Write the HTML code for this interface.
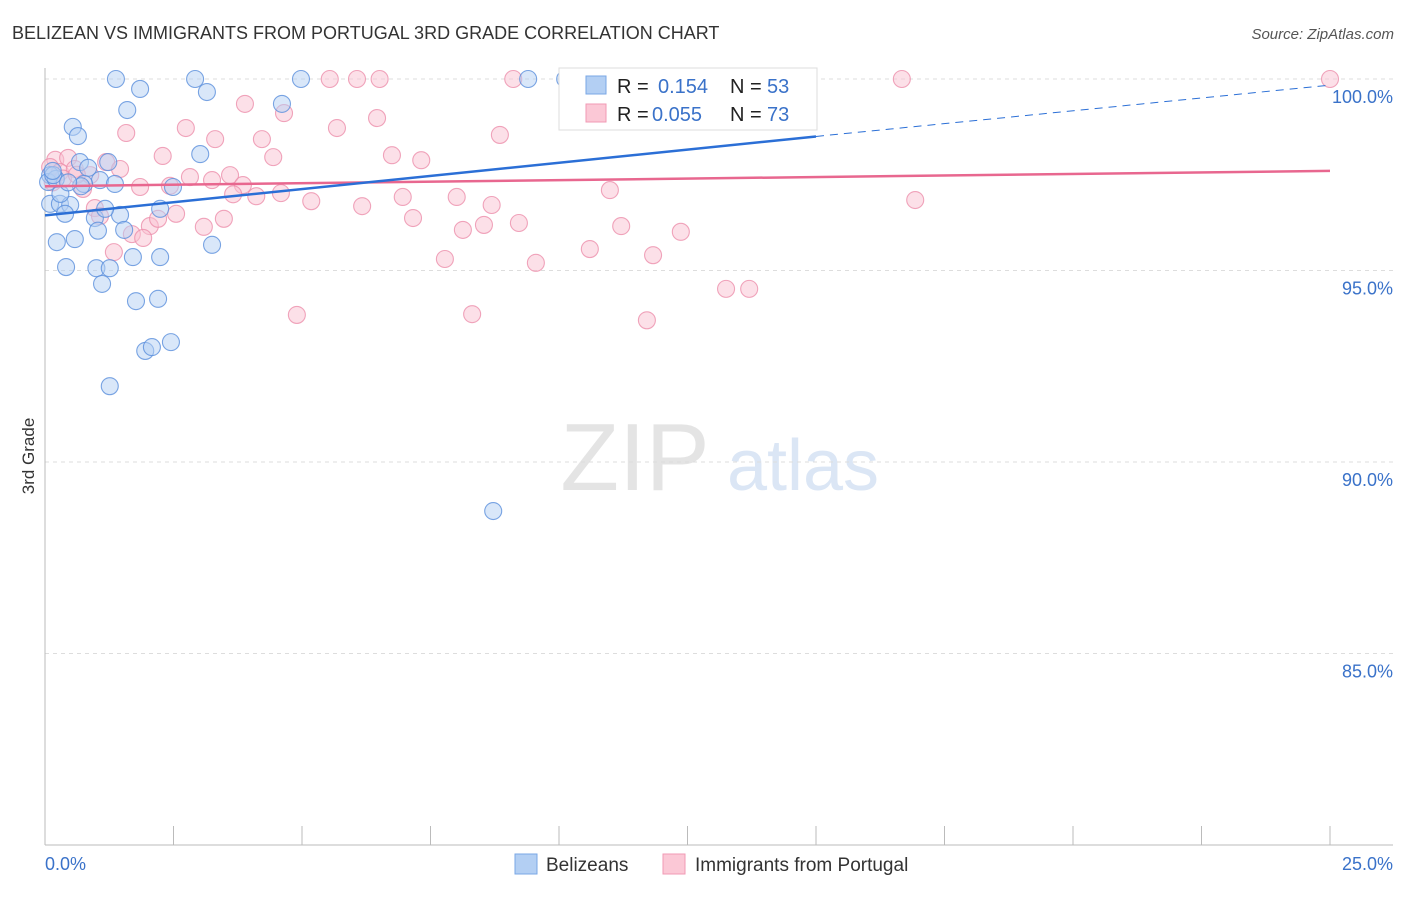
<!DOCTYPE html>
<html><head><meta charset="utf-8"><style>
body{margin:0;background:#fff;font-family:"Liberation Sans",sans-serif;}
svg text{font-family:"Liberation Sans",sans-serif;}
</style></head><body>
<svg id="c" width="1406" height="892">
<text x="12" y="39" font-size="18" fill="#333">BELIZEAN VS IMMIGRANTS FROM PORTUGAL 3RD GRADE CORRELATION CHART</text>
<text x="1394" y="39" font-size="15" fill="#555" font-style="italic" text-anchor="end">Source: ZipAtlas.com</text>
<text x="34" y="456" font-size="17" fill="#333" text-anchor="middle" transform="rotate(-90 34 456)">3rd Grade</text>
<g><text x="635" y="490" font-size="96" fill="#e4e4e4" font-family="Liberation Serif" text-anchor="middle">ZIP</text><text x="803" y="490" font-size="72" fill="#dbe6f5" text-anchor="middle">atlas</text></g>
<g id="grid"></g><g id="axes"></g><g id="pts"></g><g id="trend"></g>
<g>
<rect x="559" y="68" width="258" height="62" fill="#fff" stroke="#ddd"/>
<rect x="586" y="76" width="20" height="18" fill="#b3cff3" stroke="#7aa7e6"/>
<text x="617" y="93" font-size="20" fill="#222">R = </text><text x="658" y="93" font-size="20" fill="#3a72c9">0.154</text>
<text x="730" y="93" font-size="20" fill="#222">N = </text><text x="767" y="93" font-size="20" fill="#3a72c9">53</text>
<rect x="586" y="104" width="20" height="18" fill="#fbc8d6" stroke="#f09ab4"/>
<text x="617" y="121" font-size="20" fill="#222">R = </text><text x="652" y="121" font-size="20" fill="#3a72c9">0.055</text>
<text x="730" y="121" font-size="20" fill="#222">N = </text><text x="767" y="121" font-size="20" fill="#3a72c9">73</text>
</g>
<g>
<rect x="515" y="854" width="22" height="20" fill="#b3cff3" stroke="#7aa7e6"/>
<text x="546" y="871" font-size="19" fill="#333">Belizeans</text>
<rect x="663" y="854" width="22" height="20" fill="#fbc8d6" stroke="#f09ab4"/>
<text x="695" y="871" font-size="19" fill="#333">Immigrants from Portugal</text>
</g>
</svg>
<script>
const NS='http://www.w3.org/2000/svg';
const yTicks=[100,95,90,85];
const yTickLabels=['100.0%','95.0%','90.0%','85.0%'];
const xTickLabels=['0.0%','25.0%'];
const blueX=[1.38,2.92,4.98,9.4,10.12,1.85,3.15,1.6,4.61,0.54,0.64,3.02,1.23,0.68,0.84,0.1,1.07,1.36,0.76,2.49,0.1,0.29,0.49,0.39,1.46,0.97,1.17,2.24,1.54,1.03,0.23,0.58,3.25,1.71,2.24,0.41,1.0,1.26,1.11,1.77,2.2,1.95,2.08,2.45,1.26,8.72,0.06,0.21,0.16,0.3,0.7,0.15,0.45];
const blueY=[100,100,100,100,100,99.74,99.66,99.19,99.35,98.75,98.51,98.04,97.83,97.83,97.68,97.49,97.36,97.26,97.26,97.18,96.74,96.74,96.71,96.48,96.45,96.37,96.61,96.61,96.06,96.04,95.74,95.82,95.67,95.35,95.35,95.09,95.06,95.06,94.65,94.2,94.26,92.9,93.0,93.13,91.98,88.72,97.31,97.39,97.49,97.0,97.2,97.6,97.3];
const pinkX=[5.54,6.07,6.51,9.11,13.87,16.67,25,3.89,4.65,6.46,2.74,5.68,8.85,1.58,3.31,4.22,2.29,4.44,6.75,7.32,0.2,0.45,1.19,1.46,3.6,3.85,2.82,3.25,2.43,1.85,0.74,10.99,3.66,4.11,4.59,5.18,6.17,6.96,8.01,8.69,16.93,0.97,1.07,2.55,3.09,3.48,2.04,2.2,7.16,8.54,8.13,9.22,11.21,12.37,1.69,1.91,1.34,10.6,11.83,7.78,9.55,13.25,13.7,4.9,8.31,11.71,0.1,0.29,0.58,0.88,0.15,0.35,0.62];
const pinkY=[100,100,100,100,100,100,100,99.35,99.11,98.98,98.72,98.72,98.54,98.59,98.43,98.43,97.99,97.96,98.01,97.88,97.89,97.94,97.83,97.65,97.49,97.23,97.44,97.36,97.21,97.18,97.13,97.1,96.99,96.94,97.02,96.81,96.68,96.92,96.92,96.71,96.84,96.63,96.42,96.48,96.14,96.35,96.16,96.35,96.37,96.19,96.06,96.24,96.16,96.01,95.95,95.85,95.48,95.56,95.4,95.3,95.2,94.52,94.52,93.84,93.86,93.7,97.7,97.57,97.65,97.49,97.3,97.4,97.5];
const blueTrend=[[0,96.44],[15,98.5]];
const blueDash=[[15,98.5],[25,99.84]];
const pinkTrend=[[0,97.2],[25,97.6]];
const X0=45,X1=1330,Y100=79,PPU=38.3;
const xs=v=>X0+v/25*(X1-X0);
const ys=v=>Y100+(100-v)*PPU;
function el(t,a,p){const e=document.createElementNS(NS,t);for(const k in a)e.setAttribute(k,a[k]);p.appendChild(e);return e;}
const grid=document.getElementById('grid'),axes=document.getElementById('axes'),pts=document.getElementById('pts'),tr=document.getElementById('trend');
yTicks.forEach((v,i)=>{
 const l=el('line',{x1:X0,x2:1393,y1:ys(v),y2:ys(v),stroke:'#ddd','stroke-dasharray':'4,4'},grid);
 
 
 const t=el('text',{x:1393,y:ys(v)+24,'font-size':18,fill:'#3a72c9','text-anchor':'end'},axes);
 t.textContent=yTickLabels[i];
 
 
});
const ya=el('line',{x1:X0,x2:X0,y1:68,y2:845,stroke:'#bbb'},axes);


const xa=el('line',{x1:X0,x2:1393,y1:845,y2:845,stroke:'#bbb'},axes);


for(let i=0;i<=10;i++){const tk=el('line',{x1:xs(i*2.5),x2:xs(i*2.5),y1:826,y2:845,stroke:'#bbb'},axes);
 
 }
[[0,'start',45],[1,'end',1393]].forEach(([i,a,x])=>{const t=el('text',{x:x,y:870,'font-size':18,fill:'#3a72c9','text-anchor':a},axes);t.textContent=xTickLabels[i];
 
 });
function dots(X,Y,fill,stroke,name){X.forEach((x,i)=>{const c=el('circle',{cx:xs(x),cy:ys(Y[i]),r:8.5,fill:fill,'fill-opacity':0.5,stroke:stroke,'stroke-opacity':0.8,'stroke-width':1.1},pts);
 
 });}
dots(pinkX,pinkY,'#f9c2d2','#ec8fab','point-portugal');
dots(blueX,blueY,'#b3cff3','#5a8fdc','point-belizean');
function line(p,col,w,dash,name){const l=el('line',{x1:xs(p[0][0]),y1:ys(p[0][1]),x2:xs(p[1][0]),y2:ys(p[1][1]),stroke:col,'stroke-width':w},tr);if(dash)l.setAttribute('stroke-dasharray',dash);
 
 }
line(pinkTrend,'#e8678f',2.5,null,'trend-portugal');
line(blueTrend,'#2b6fd6',2.5,null,'trend-belizean');
line(blueDash,'#2b6fd6',1,'8,6','trend-belizean-extrapolated');
</script>
</body></html>
